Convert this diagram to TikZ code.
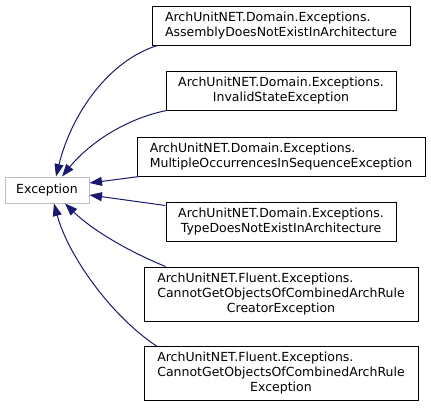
\documentclass[tikz,border=0pt]{standalone}
\usepackage{fontspec}
\newfontfamily\dxfont{DejaVu Sans}
\usetikzlibrary{arrows.meta,calc}
\definecolor{edgeblue}{HTML}{191970}
\definecolor{extgray}{HTML}{BFBFBF}
\begin{document}
\begin{tikzpicture}[x=1pt,y=-1pt,
  cls/.style={draw=black,line width=1pt,fill=white,inner sep=0pt,
    font=\dxfont\fontsize{12.5}{15}\selectfont,text=black},
  extcls/.style={cls,draw=extgray},
  edge/.style={draw=edgeblue,line width=1pt,
    -{Triangle[length=12.5pt,width=9pt]},fill=none}]
\useasboundingbox (0,0) rectangle (431,407);
\fill[white] (0,0) rectangle (431,407);

\node[extcls,minimum width=84pt,minimum height=26pt] (exc) at (47,190) {Exception};

\node[cls,minimum width=258pt,minimum height=39pt] (n1) at (281,25.5)
  {\begin{tabular}{@{}l@{}}ArchUnitNET.Domain.Exceptions.\\\multicolumn{1}{@{}c@{}}{AssemblyDoesNotExistInArchitecture}\end{tabular}};
\node[cls,minimum width=230pt,minimum height=39pt] (n2) at (281,90.5)
  {\begin{tabular}{@{}l@{}}ArchUnitNET.Domain.Exceptions.\\\multicolumn{1}{@{}c@{}}{InvalidStateException}\end{tabular}};
\node[cls,minimum width=288pt,minimum height=39pt] (n3) at (281,156.5)
  {\begin{tabular}{@{}l@{}}ArchUnitNET.Domain.Exceptions.\\\multicolumn{1}{@{}c@{}}{MultipleOccurrencesInSequenceException}\end{tabular}};
\node[cls,minimum width=230pt,minimum height=39pt] (n4) at (281,221.5)
  {\begin{tabular}{@{}l@{}}ArchUnitNET.Domain.Exceptions.\\\multicolumn{1}{@{}c@{}}{TypeDoesNotExistInArchitecture}\end{tabular}};
\node[cls,minimum width=274pt,minimum height=54pt] (n5) at (281,294)
  {\begin{tabular}{@{}l@{}}ArchUnitNET.Fluent.Exceptions.\\CannotGetObjectsOfCombinedArchRule\\\multicolumn{1}{@{}c@{}}{CreatorException}\end{tabular}};
\node[cls,minimum width=274pt,minimum height=54pt] (n6) at (281,373.5)
  {\begin{tabular}{@{}l@{}}ArchUnitNET.Fluent.Exceptions.\\CannotGetObjectsOfCombinedArchRule\\\multicolumn{1}{@{}c@{}}{Exception}\end{tabular}};

\draw[edge] ($(n1.south west)+(6,0)$) .. controls (110,60) and (72,112) .. ($(exc.north)+(9,0)$);
\draw[edge] ($(n2.south west)+(1,0)$) .. controls (120,120) and (85,148) .. ($(exc.north)+(15,0)$);
\draw[edge] ($(n3.south west)+(3,0)$) -- ($(exc.east)+(0,-7)$);
\draw[edge] ($(n4.north west)+(0,4)$) -- ($(exc.east)+(0,5)$);
\draw[edge] ($(n5.north west)+(22,0)$) .. controls (125,250) and (90,228) .. ($(exc.south)+(18,0)$);
\draw[edge] ($(n6.north west)+(13,0)$) .. controls (110,315) and (68,255) .. ($(exc.south)+(7,0)$);
\end{tikzpicture}
\end{document}
